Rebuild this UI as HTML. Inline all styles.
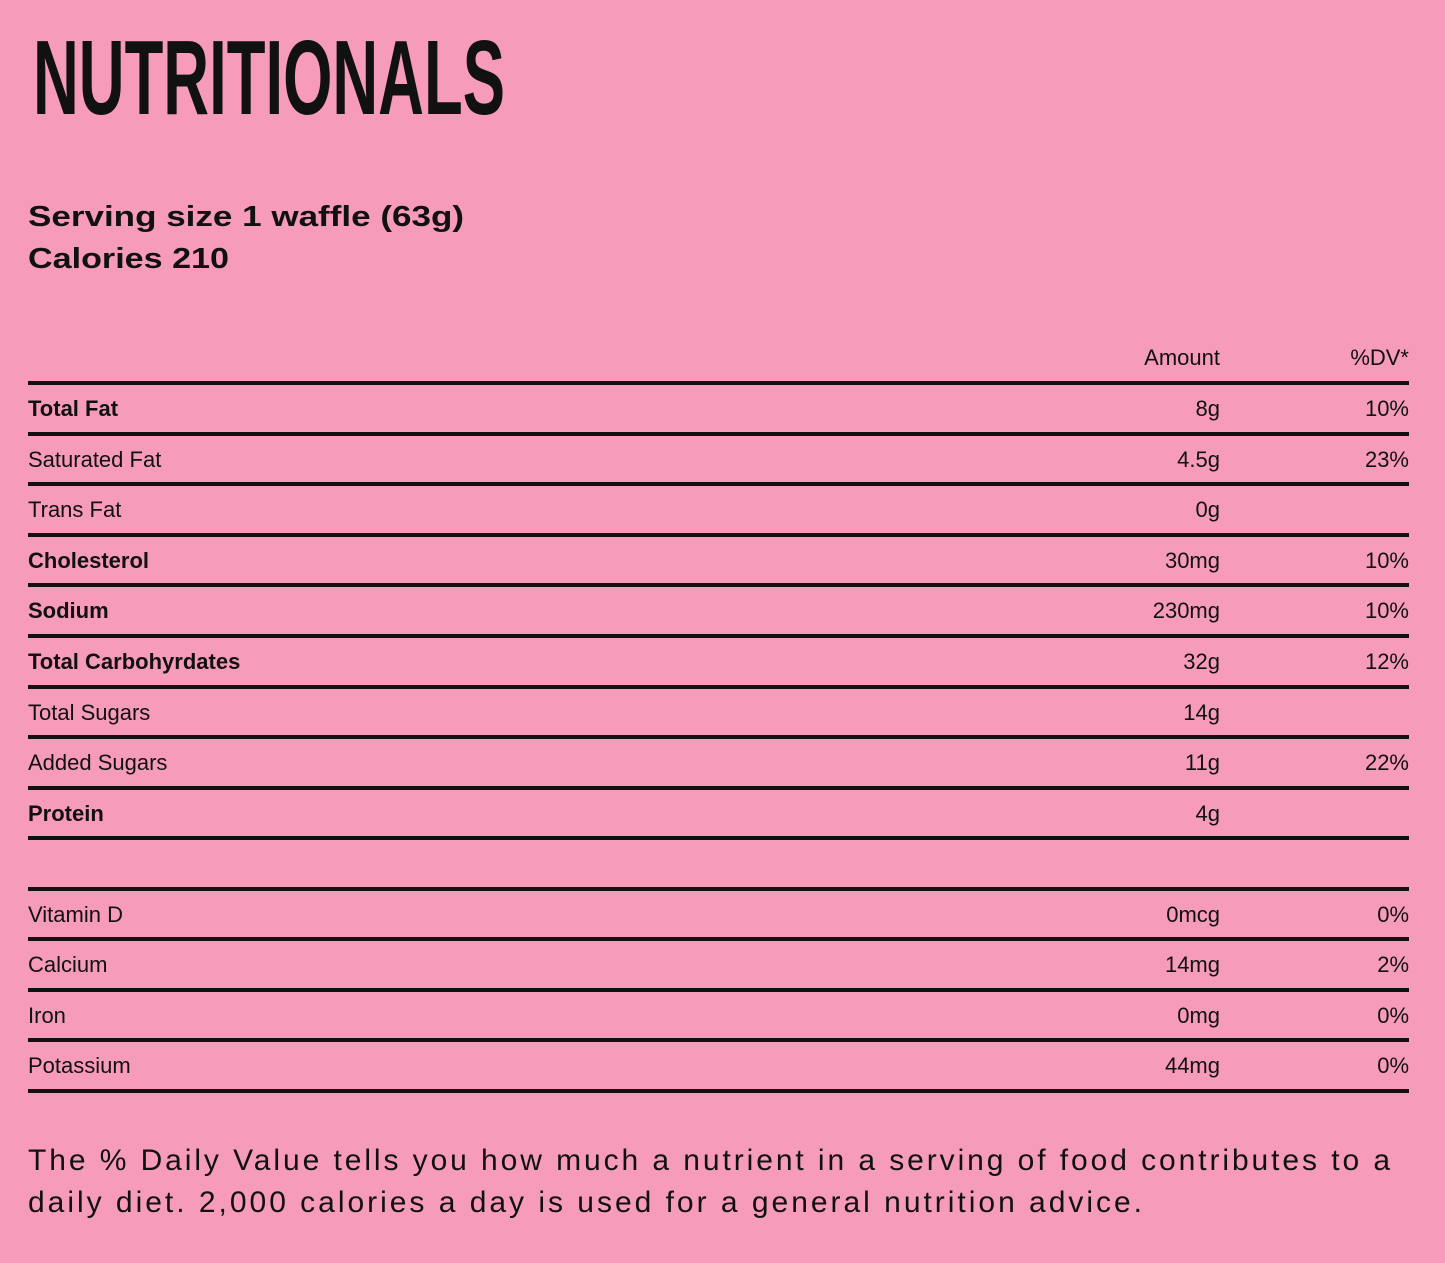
<!DOCTYPE html>
<html><head><meta charset="utf-8"><style>
html,body{margin:0;padding:0;background:#f79bbb;}
svg{display:block}
text{font-family:"Liberation Sans",sans-serif;fill:#111;}
</style></head><body>
<svg width="1445" height="1263" viewBox="0 0 1445 1263">
<rect width="1445" height="1263" fill="#f79bbb"/>
<text x="33" y="114" font-size="106" font-weight="bold" textLength="472" lengthAdjust="spacingAndGlyphs">NUTRITIONALS</text>
<text x="28" y="226" font-size="29" font-weight="bold" textLength="436" lengthAdjust="spacingAndGlyphs">Serving size 1 waffle (63g)</text>
<text x="28" y="268" font-size="29" font-weight="bold" textLength="201" lengthAdjust="spacingAndGlyphs">Calories 210</text>
<g font-size="22">
<text x="1220" y="365" text-anchor="end">Amount</text>
<text x="1409" y="365" text-anchor="end">%DV*</text>
</g>
<g stroke="#111" stroke-width="4">
<line x1="28" x2="1409" y1="383" y2="383"/>
<line x1="28" x2="1409" y1="434" y2="434"/>
<line x1="28" x2="1409" y1="484" y2="484"/>
<line x1="28" x2="1409" y1="535" y2="535"/>
<line x1="28" x2="1409" y1="585" y2="585"/>
<line x1="28" x2="1409" y1="636" y2="636"/>
<line x1="28" x2="1409" y1="687" y2="687"/>
<line x1="28" x2="1409" y1="737" y2="737"/>
<line x1="28" x2="1409" y1="788" y2="788"/>
<line x1="28" x2="1409" y1="838" y2="838"/>
<line x1="28" x2="1409" y1="889" y2="889"/>
<line x1="28" x2="1409" y1="939" y2="939"/>
<line x1="28" x2="1409" y1="990" y2="990"/>
<line x1="28" x2="1409" y1="1040" y2="1040"/>
<line x1="28" x2="1409" y1="1091" y2="1091"/>
</g>
<g font-size="22">
<text x="28" y="416" font-weight="bold">Total Fat</text><text x="1220" y="416" text-anchor="end">8g</text><text x="1409" y="416" text-anchor="end">10%</text>
<text x="28" y="467">Saturated Fat</text><text x="1220" y="467" text-anchor="end">4.5g</text><text x="1409" y="467" text-anchor="end">23%</text>
<text x="28" y="517">Trans Fat</text><text x="1220" y="517" text-anchor="end">0g</text>
<text x="28" y="568" font-weight="bold">Cholesterol</text><text x="1220" y="568" text-anchor="end">30mg</text><text x="1409" y="568" text-anchor="end">10%</text>
<text x="28" y="618" font-weight="bold">Sodium</text><text x="1220" y="618" text-anchor="end">230mg</text><text x="1409" y="618" text-anchor="end">10%</text>
<text x="28" y="669" font-weight="bold">Total Carbohyrdates</text><text x="1220" y="669" text-anchor="end">32g</text><text x="1409" y="669" text-anchor="end">12%</text>
<text x="28" y="720">Total Sugars</text><text x="1220" y="720" text-anchor="end">14g</text>
<text x="28" y="770">Added Sugars</text><text x="1220" y="770" text-anchor="end">11g</text><text x="1409" y="770" text-anchor="end">22%</text>
<text x="28" y="821" font-weight="bold">Protein</text><text x="1220" y="821" text-anchor="end">4g</text>
<text x="28" y="922">Vitamin D</text><text x="1220" y="922" text-anchor="end">0mcg</text><text x="1409" y="922" text-anchor="end">0%</text>
<text x="28" y="972">Calcium</text><text x="1220" y="972" text-anchor="end">14mg</text><text x="1409" y="972" text-anchor="end">2%</text>
<text x="28" y="1023">Iron</text><text x="1220" y="1023" text-anchor="end">0mg</text><text x="1409" y="1023" text-anchor="end">0%</text>
<text x="28" y="1073">Potassium</text><text x="1220" y="1073" text-anchor="end">44mg</text><text x="1409" y="1073" text-anchor="end">0%</text>
</g>
<text x="28" y="1170" font-size="30" textLength="1362" lengthAdjust="spacing">The % Daily Value tells you how much a nutrient in a serving of food contributes to a</text>
<text x="28" y="1212" font-size="30" textLength="1114" lengthAdjust="spacing">daily diet. 2,000 calories a day is used for a general nutrition advice.</text>
</svg>
</body></html>
